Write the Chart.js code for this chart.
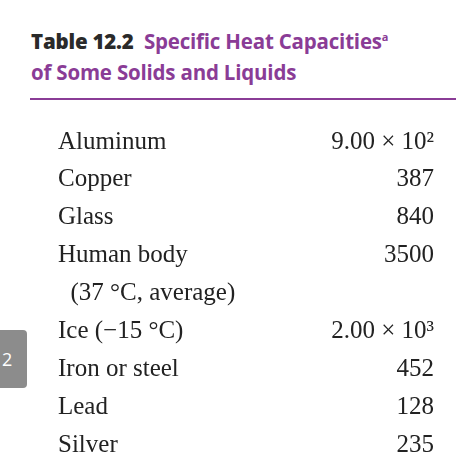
<!DOCTYPE html>
<html><head><meta charset="utf-8">
<script src="https://cdn.jsdelivr.net/npm/chart.js@4"></script>
<style>
body{margin:0;width:467px;height:475px;background:#fff;position:relative;overflow:hidden}
#t1{position:absolute;left:31px;top:27px;font:bold 20.5px "Open Sans",sans-serif;color:#8a3c96;white-space:nowrap;letter-spacing:-0.2px}
#t1 b{color:#2a2a2a}
#t2{position:absolute;left:31px;top:58px;font:bold 20.5px "Open Sans",sans-serif;color:#8a3c96;letter-spacing:-0.2px}
#rule{position:absolute;left:30px;top:98px;width:426px;height:2px;background:#8a3c96}
#tab{position:absolute;left:0;top:330px;width:27px;height:58px;background:#8c8c8c;border-radius:0 4px 4px 0;color:#fff;font:18px "Open Sans",sans-serif;line-height:58px;text-align:left;padding-left:2px;box-sizing:border-box}
#wrap{position:absolute;left:58px;top:108px;width:376px;height:371px}
</style></head><body>
<div id="t1"><b>Table 12.2</b>&nbsp; Specific Heat Capacities<sup style="font-size:11px">a</sup></div>
<div id="t2">of Some Solids and Liquids</div>
<div id="rule"></div>
<div id="tab">2</div>
<div id="wrap"><canvas id="c"></canvas></div>
<script>
const materials=["Aluminum","Copper","Glass","Human body","  (37 °C, average)","Ice (−15 °C)","Iron or steel","Lead","Silver"];
const valueLabels=["9.00 × 10²","387","840","3500","","2.00 × 10³","452","128","235"];
const values=[null,null,null,null,null,null,null,null,null];
const font={family:'"Liberation Serif",serif',size:25};
new Chart(document.getElementById('c'),{
 type:'bar',
 data:{labels:materials,datasets:[{data:values,yAxisID:'y'},{data:values,yAxisID:'y2'}]},
 options:{indexAxis:'y',responsive:true,maintainAspectRatio:false,animation:false,
  layout:{padding:0},
  plugins:{legend:{display:false},tooltip:{enabled:false}},
  scales:{
   x:{display:false},
   y:{position:'left',grid:{display:false},border:{display:false},afterFit:s=>{s.width=220},
      ticks:{crossAlign:'far',color:'#222',padding:0,autoSkip:false,font}},
   y2:{position:'right',type:'category',labels:valueLabels,grid:{display:false},border:{display:false},afterFit:s=>{s.width=150},
      ticks:{crossAlign:'far',color:'#222',padding:0,autoSkip:false,font}}
  }}
});
</script></body></html>
